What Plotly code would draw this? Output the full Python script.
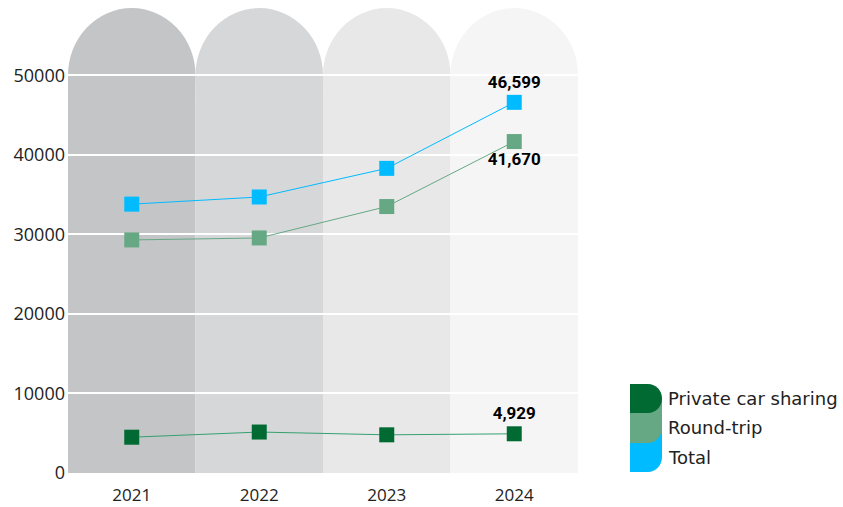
import plotly.graph_objects as go

years = ["2021", "2022", "2023", "2024"]
private = [4500, 5150, 4800, 4929]
round_trip = [29300, 29550, 33500, 41670]
total = [33800, 34700, 38300, 46599]
series_names = ["Private car sharing", "Round-trip", "Total"]
series_colors = ["#006a32", "#66a884", "#00bbff"]
line_colors = ["#35a070", "#66a884", "#00bbff"]
col_colors = ["#c4c5c7", "#d6d7d9", "#e8e8e8", "#f5f5f5"]

W, H = 843, 507
ML, MR, MT, MB = 68, 265, 8, 34
YMAX = 58460


def px(x):
    return (x - ML) / (W - ML - MR)


def py(y):
    return (H - MB - y) / (H - MT - MB)


fig = go.Figure()

# background columns with rounded tops
arc_h = 8450
for i, c in enumerate(col_colors):
    fig.add_shape(type="rect", xref="x", yref="y", x0=i - 0.5, x1=i + 0.5, y0=0, y1=50000,
                  fillcolor=c, line_width=0, layer="below")
    fig.add_shape(type="circle", xref="x", yref="y", x0=i - 0.5, x1=i + 0.5,
                  y0=50000 - arc_h, y1=50000 + arc_h, fillcolor=c, line_width=0, layer="below")

data = [private, round_trip, total]
positions = ["top center", "bottom center", "top center"]
for vals, name, mc, lc, pos in zip(data, series_names, series_colors, line_colors, positions):
    txt = ["" for _ in vals[:-1]] + [f"{vals[-1]:,}"]
    fig.add_trace(go.Scatter(
        x=years, y=vals, name=name, mode="lines+markers+text",
        line=dict(color=lc, width=1),
        marker=dict(symbol="square", size=15, color=mc),
        text=txt, textposition=pos,
        textfont=dict(family="Roboto", size=17, color="#000000", weight="bold"),
        cliponaxis=False, showlegend=False,
    ))

# custom legend
def P(x, y):
    return f"{px(x):.5f},{py(y):.5f}"

paths = [
    ("M" + P(630, 428) + " L" + P(662, 428) + " L" + P(662, 457) + " C" + P(662, 465) + " " + P(656, 472) + " " + P(648, 472) + " L" + P(630, 472) + " Z", series_colors[2]),
    ("M" + P(630, 399) + " L" + P(662, 399) + " L" + P(662, 428) + " C" + P(662, 436) + " " + P(656, 443) + " " + P(648, 443) + " L" + P(630, 443) + " Z", series_colors[1]),
    ("M" + P(630, 384) + " L" + P(648, 384) + " C" + P(656, 384) + " " + P(662, 390.5) + " " + P(662, 398.5) + " C" + P(662, 406.5) + " " + P(656, 413) + " " + P(648, 413) + " L" + P(630, 413) + " Z", series_colors[0]),
]
for p, c in paths:
    fig.add_shape(type="path", xref="paper", yref="paper", path=p, fillcolor=c, line_width=0)

for name, yc in zip(series_names, [398, 427, 457]):
    fig.add_annotation(x=px(666), y=py(yc), xref="paper", yref="paper", text=name,
                       showarrow=False, xanchor="left", yanchor="middle",
                       font=dict(family="DejaVu Sans", size=18, color="#222222"))

fig.update_layout(
    width=W, height=H,
    margin=dict(l=ML, r=MR, t=MT, b=MB, autoexpand=False),
    paper_bgcolor="white", plot_bgcolor="white",
    font=dict(family="Open Sans", size=18, color="#222222"),
)
fig.update_xaxes(type="category", range=[-0.5, 3.5], showgrid=False, zeroline=False,
                 showline=False, ticks="", ticklabelstandoff=10, automargin=False,
                 tickfont=dict(family="Open Sans", size=17, color="#222222"))
fig.update_yaxes(range=[0, YMAX], dtick=10000, tick0=0, showgrid=True, gridcolor="white",
                 gridwidth=2, zeroline=False, showline=False, ticks="", tickformat="d",
                 automargin=False, ticklabelstandoff=2,
                 tickfont=dict(family="Open Sans", size=18, color="#222222"))

fig.write_html("out.html")
